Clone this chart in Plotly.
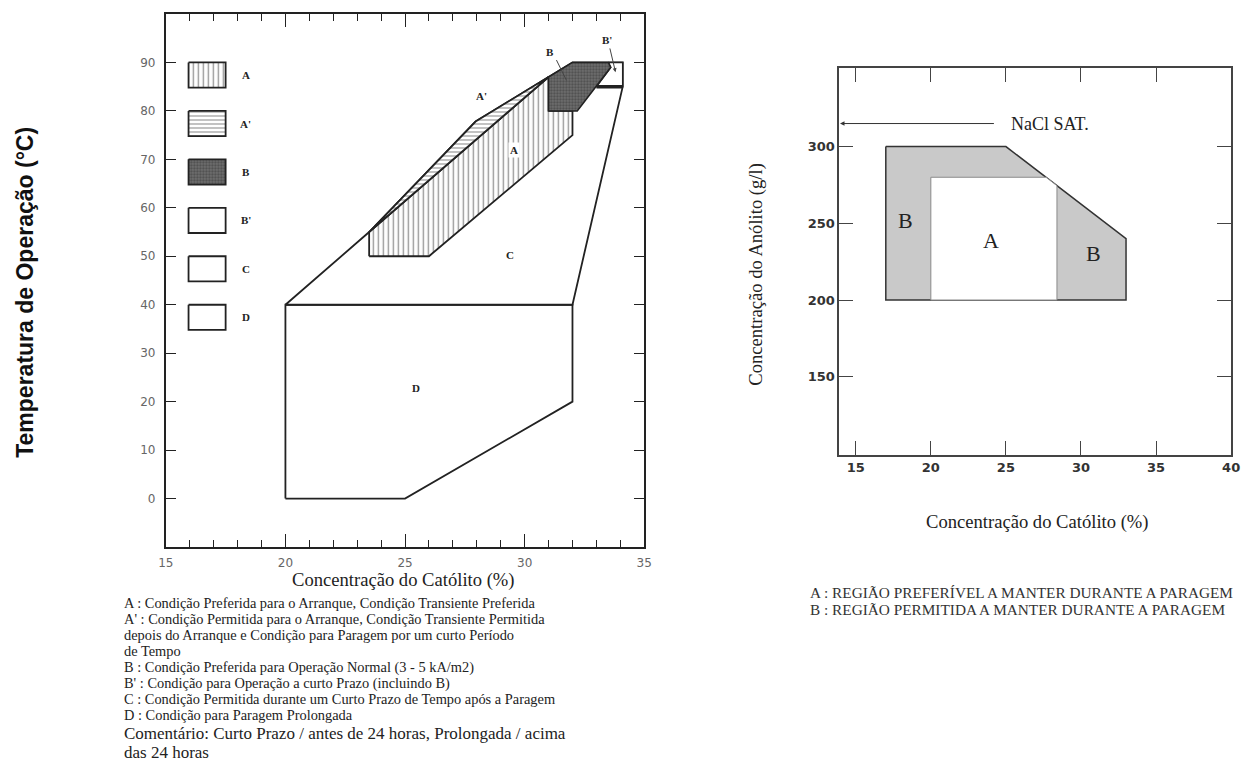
import plotly.graph_objects as go

W, H = 1251, 762

# ---------------- left chart: catholyte concentration (%) vs operating temperature (°C)
region_D_x = [20, 25, 32, 32, 20]
region_D_y = [0, 0, 20, 40, 40]

region_C_x = [20, 23.5, 27.95, 31, 32, 34.1, 34.1, 32]
region_C_y = [40, 55, 77.8, 87, 90, 90, 85, 40]

region_A_x = [23.5, 26, 32, 32, 31, 31, 23.5]
region_A_y = [50, 50, 75, 80, 80, 87, 55]

region_A2_x = [23.5, 27.95, 31]
region_A2_y = [55, 77.8, 87]

region_B_x = [31, 31, 32, 33.5, 33.6, 32.2]
region_B_y = [80, 87, 90, 90, 89, 80]

region_B2_x = [33.5, 34.1, 34.1, 33.0, 33.6]
region_B2_y = [90, 90, 85, 85, 89]

legend_keys = ["A", "A'", "B", "B'", "C", "D"]
legend_top = [90, 80, 70, 60, 50, 40]

# ---------------- right chart: catholyte (%) vs anolyte (g/l)
zone_B_x = [17, 25, 33, 33, 17]
zone_B_y = [300, 300, 240, 200, 200]
zone_A_x = [20, 20, 27.67, 28.4, 28.4]
zone_A_y = [200, 280, 280, 274.5, 200]
nacl_sat = 315

left_xticks = [15, 20, 25, 30, 35]
left_yticks = [0, 10, 20, 30, 40, 50, 60, 70, 80, 90]
right_xticks = [15, 20, 25, 30, 35, 40]
right_yticks = [150, 200, 250, 300]

caption_left = [
    "A : Condição Preferida para o Arranque, Condição Transiente Preferida",
    "A' : Condição Permitida para o Arranque, Condição Transiente Permitida",
    "depois do Arranque e Condição para Paragem por um curto Período",
    "de Tempo",
    "B : Condição Preferida para Operação Normal (3 - 5 kA/m2)",
    "B' : Condição para Operação a curto Prazo (incluindo B)",
    "C : Condição Permitida durante um Curto Prazo de Tempo após a Paragem",
    "D : Condição para Paragem Prolongada",
]
caption_comment = ["Comentário: Curto Prazo / antes de 24 horas, Prolongada / acima",
                   "das 24 horas"]
caption_right = ["A : REGIÃO PREFERÍVEL A MANTER DURANTE A PARAGEM",
                 "B : REGIÃO PERMITIDA A MANTER DURANTE A PARAGEM"]

SERIF = "Liberation Serif, Times New Roman, serif"
SANS = "DejaVu Sans, sans-serif"
INK = "#222"


def px(x):
    return x / W


def py(y):
    return 1 - y / H


fig = go.Figure()


def poly(xs, ys, xa="x", ya="y", fill="white", pattern=None, lw=1.8, lc=INK):
    fig.add_trace(go.Scatter(
        x=list(xs) + [xs[0]], y=list(ys) + [ys[0]], mode="lines",
        fill="toself", fillcolor=fill, fillpattern=pattern,
        line=dict(color=lc, width=lw), xaxis=xa, yaxis=ya,
        hoverinfo="skip", showlegend=False))


def page_text(x, y, text, size, color=INK, family=SERIF, anchor="center",
              angle=0, weight="normal"):
    fig.add_annotation(x=px(x), y=py(y), xref="paper", yref="paper", text=text,
                       showarrow=False, xanchor=anchor, yanchor="middle",
                       textangle=angle, borderpad=0,
                       font=dict(family=family, size=size, color=color, weight=weight))


vert = dict(shape="|", size=5, solidity=0.28, fgcolor="#333", bgcolor="white")
horiz = dict(shape="-", size=4, solidity=0.3, fgcolor="#333", bgcolor="white")
dots = dict(shape=".", size=3, solidity=0.45, fgcolor="#303030", bgcolor="#6e6e6e")

poly(region_D_x, region_D_y)
poly(region_C_x, region_C_y)
poly(region_A_x, region_A_y, pattern=vert)
poly(region_A2_x, region_A2_y, pattern=horiz)
poly(region_B2_x, region_B2_y, lw=1.5)
poly(region_B_x, region_B_y, fill="#555", pattern=dots, lw=1.5)
fig.add_trace(go.Scatter(x=[33.0, 34.1], y=[85, 85], mode="lines",
                         line=dict(color=INK, width=3.5), hoverinfo="skip",
                         showlegend=False))

# legend swatches drawn inside the left plot
swatch_style = {"A": ("white", vert), "A'": ("white", horiz), "B": ("#555", dots)}
for key, top in zip(legend_keys, legend_top):
    fill, pat = swatch_style.get(key, ("white", None))
    poly([15.95, 17.5, 17.5, 15.95], [top, top, top - 5.2, top - 5.2],
         fill=fill, pattern=pat, lw=1.8)
    fig.add_annotation(x=18.35, y=top - 2.6, text=key, showarrow=False,
                       xanchor="center", yanchor="middle",
                       font=dict(family=SERIF, size=11, color=INK, weight="bold"))

# region labels
for txt, xx, yy, bg in [("A", 29.57, 72, "white"), ("A'", 28.2, 83, None),
                        ("C", 29.4, 50.3, None), ("D", 25.45, 22.8, None),
                        ("B", 31.05, 92.2, None), ("B'", 33.45, 94.6, None)]:
    fig.add_annotation(x=xx, y=yy, text=txt, showarrow=False,
                       bgcolor=bg if bg else "rgba(0,0,0,0)",
                       font=dict(family=SERIF, size=11, color=INK, weight="bold"))

fig.add_annotation(x=31.75, y=86.3, ax=31.3, ay=90.8, axref="x", ayref="y",
                   text="", showarrow=True, arrowhead=0, arrowwidth=1, arrowcolor="#444")
fig.add_annotation(x=33.8, y=88.0, ax=33.55, ay=93.2, axref="x", ayref="y",
                   text="", showarrow=True, arrowhead=2, arrowsize=0.8,
                   arrowwidth=1, arrowcolor="#444")

# right chart regions
poly(zone_B_x, zone_B_y, xa="x2", ya="y2", fill="#c9c9c9", lw=1.5, lc="#333")
poly(zone_A_x, zone_A_y, xa="x2", ya="y2", fill="white", lw=1, lc="#8a8a8a")
for txt, xx, yy in [("B", 18.3, 252), ("A", 24.0, 239), ("B", 30.8, 230)]:
    fig.add_annotation(x=xx, y=yy, xref="x2", yref="y2", text=txt, showarrow=False,
                       font=dict(family=SERIF, size=22, color=INK))

fig.add_annotation(x=13.95, y=nacl_sat, ax=24.3, ay=nacl_sat, xref="x2", yref="y2",
                   axref="x2", ayref="y2", text="", showarrow=True, arrowhead=2,
                   arrowsize=0.9, arrowwidth=1, arrowcolor="#333")
fig.add_annotation(x=25.3, y=nacl_sat, xref="x2", yref="y2", text="NaCl SAT.",
                   showarrow=False, xanchor="left", yanchor="middle", borderpad=0,
                   font=dict(family=SERIF, size=18, color=INK))

# axis titles and captions
page_text(17, 292, "Temperatura de Operação (°C)", 23, color="#111",
          family="Liberation Sans, Arial, sans-serif", angle=-90, weight="bold")
page_text(401, 580, "Concentração do Católito (%)", 18.6)
for i, line in enumerate(caption_left):
    page_text(117, 603 + 16 * i, line, 14.4, anchor="left")
for i, line in enumerate(caption_comment):
    page_text(117, 733 + 19 * i, line, 17, anchor="left")

page_text(758, 274, "Concentração do Anólito (g/l)", 18.6, angle=-90)
page_text(1044, 522, "Concentração do Católito (%)", 18.6)
for i, line in enumerate(caption_right):
    page_text(812, 592 + 17.5 * i, line, 15.3, color="#333", anchor="left")

left_axis = dict(showline=True, linecolor=INK, linewidth=2, mirror="ticks",
                 ticks="inside", tickcolor=INK, showgrid=False, zeroline=False,
                 tickfont=dict(family=SANS, size=12, color="#666"))
fig.update_layout(
    width=W, height=H, margin=dict(l=0, r=0, t=0, b=0),
    paper_bgcolor="white", plot_bgcolor="white", showlegend=False,
    xaxis=dict(domain=[px(160), px(645)], range=[15, 35], tickvals=left_xticks,
               ticklen=13, tickwidth=1.2, anchor="y", ticklabelstandoff=4,
               minor=dict(dtick=1, ticklen=7, ticks="inside", tickcolor=INK),
               **left_axis),
    yaxis=dict(domain=[py(547), py(14)], range=[-10, 100], tickvals=left_yticks,
               ticklen=10, tickwidth=1.2, anchor="x", ticklabelstandoff=6,
               **left_axis),
    xaxis2=dict(domain=[px(842.7), px(1240)], range=[13.9, 40], tickvals=right_xticks,
                anchor="y2", showline=True, linecolor="#444", linewidth=1.5,
                mirror="ticks", ticks="inside", ticklen=14, tickcolor="#444",
                showgrid=False, zeroline=False,
                tickfont=dict(family=SANS, size=13, color="#333", weight="bold")),
    yaxis2=dict(domain=[py(455), py(68.3)], range=[99, 351], tickvals=right_yticks,
                anchor="x2", showline=True, linecolor="#444", linewidth=1.5,
                mirror="ticks", ticks="inside", ticklen=14, tickcolor="#444",
                showgrid=False, zeroline=False,
                tickfont=dict(family=SANS, size=13, color="#333", weight="bold")),
)

fig.write_html("out.html")
